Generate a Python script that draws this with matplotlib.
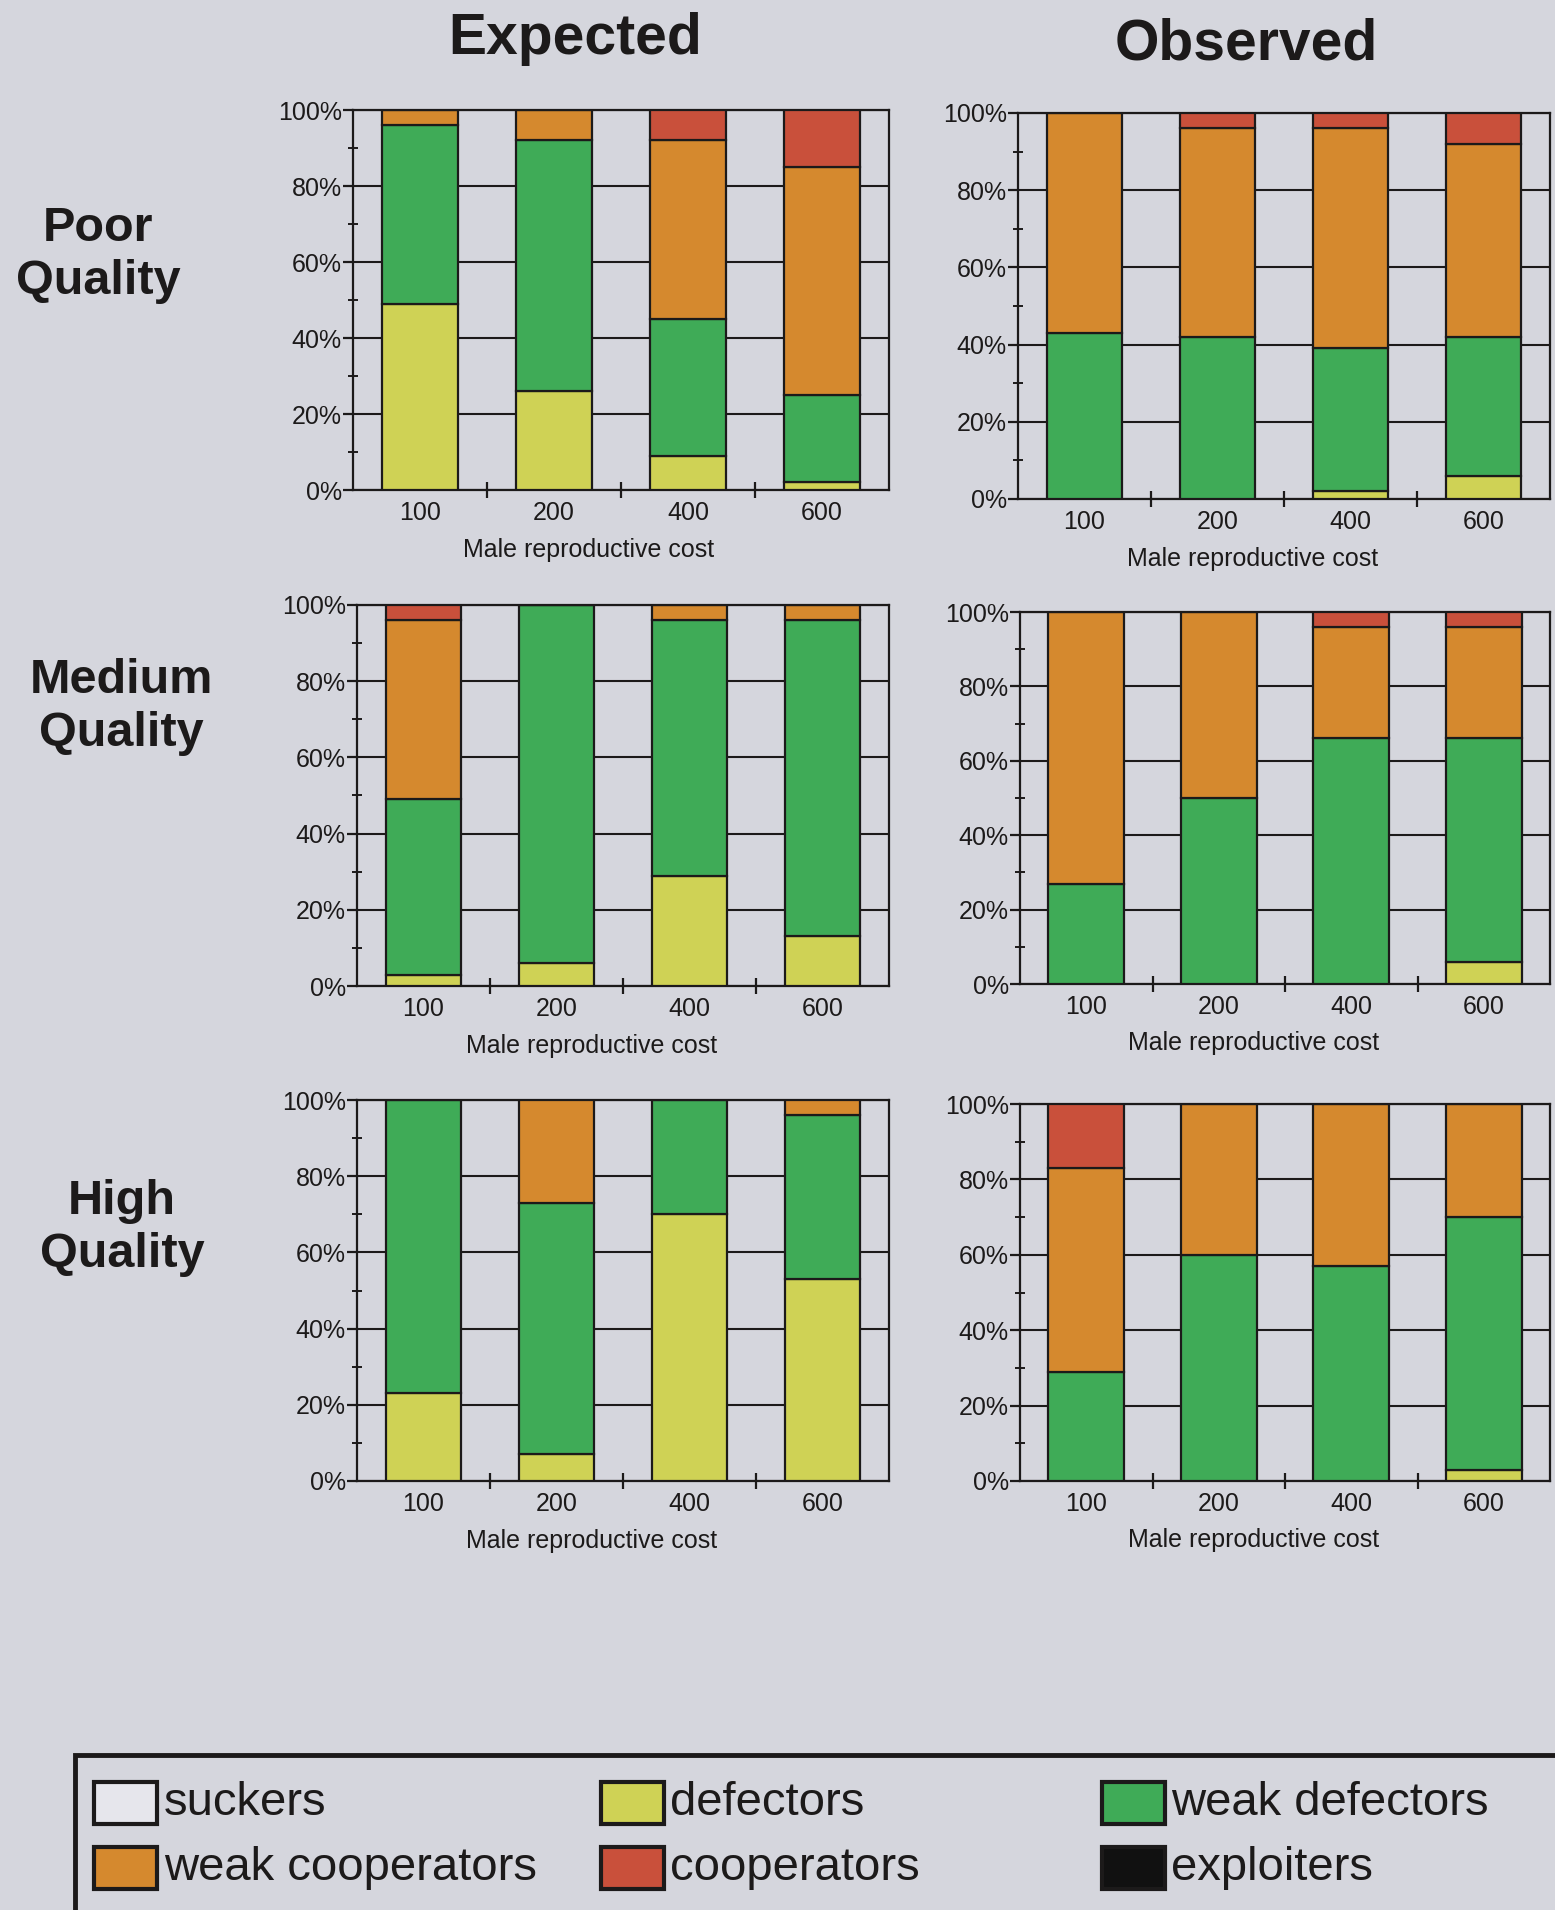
import matplotlib
matplotlib.use("Agg")
import matplotlib.pyplot as plt
from matplotlib.patches import Rectangle
from matplotlib.ticker import FixedLocator, PercentFormatter

plt.rcParams['font.family'] = ['Liberation Sans', 'DejaVu Sans']

W, H = 1555, 1910
BG = '#d5d6dd'
INK = '#1c1a1a'

costs = ["100", "200", "400", "600"]
strategies = ["suckers", "defectors", "weak defectors", "weak cooperators", "cooperators", "exploiters"]
colors = ['#e6e6ec', '#cfd255', '#3fab57', '#d5892e', '#c9503b', '#111111']

# percentages, stacked bottom->top: defectors, weak defectors, weak cooperators, cooperators
poor_exp_def = [49, 26, 9, 2]
poor_exp_wd = [47, 66, 36, 23]
poor_exp_wc = [4, 8, 47, 60]
poor_exp_co = [0, 0, 8, 15]

poor_obs_def = [0, 0, 2, 6]
poor_obs_wd = [43, 42, 37, 36]
poor_obs_wc = [57, 54, 57, 50]
poor_obs_co = [0, 4, 4, 8]

med_exp_def = [3, 6, 29, 13]
med_exp_wd = [46, 94, 67, 83]
med_exp_wc = [47, 0, 4, 4]
med_exp_co = [4, 0, 0, 0]

med_obs_def = [0, 0, 0, 6]
med_obs_wd = [27, 50, 66, 60]
med_obs_wc = [73, 50, 30, 30]
med_obs_co = [0, 0, 4, 4]

high_exp_def = [23, 7, 70, 53]
high_exp_wd = [77, 66, 30, 43]
high_exp_wc = [0, 27, 0, 4]
high_exp_co = [0, 0, 0, 0]

high_obs_def = [0, 0, 0, 3]
high_obs_wd = [29, 60, 57, 67]
high_obs_wc = [54, 40, 43, 30]
high_obs_co = [17, 0, 0, 0]

zeros = [0, 0, 0, 0]

panels = [
    [(zeros, poor_exp_def, poor_exp_wd, poor_exp_wc, poor_exp_co, zeros),
     (zeros, poor_obs_def, poor_obs_wd, poor_obs_wc, poor_obs_co, zeros)],
    [(zeros, med_exp_def, med_exp_wd, med_exp_wc, med_exp_co, zeros),
     (zeros, med_obs_def, med_obs_wd, med_obs_wc, med_obs_co, zeros)],
    [(zeros, high_exp_def, high_exp_wd, high_exp_wc, high_exp_co, zeros),
     (zeros, high_obs_def, high_obs_wd, high_obs_wc, high_obs_co, zeros)],
]

# pixel boxes (left, right, top, bottom) for each panel
boxes = [
    [(353, 889, 110, 490), (1018, 1550, 113, 499)],
    [(357, 889, 605, 986), (1020, 1550, 612, 984)],
    [(357, 889, 1100, 1481), (1020, 1550, 1104, 1481)],
]

row_labels = ["Poor\nQuality", "Medium\nQuality", "High\nQuality"]
row_label_pos = [(98, 255), (121, 707), (122, 1228)]

fig = plt.figure(figsize=(W / 100, H / 100), dpi=100, facecolor=BG)


def px_axes(l, r, t, b):
    return fig.add_axes([l / W, 1 - b / H, (r - l) / W, (b - t) / H])


def draw_panel(ax, series):
    x = list(range(len(costs)))
    bottom = [0] * len(costs)
    for vals, c in zip(series, colors):
        if sum(vals) == 0:
            continue
        ax.bar(x, vals, 0.57, bottom=bottom, color=c, edgecolor=INK, linewidth=1.6, zorder=3)
        bottom = [b + v for b, v in zip(bottom, vals)]
    ax.set_facecolor(BG)
    ax.set_xlim(-0.5, 3.5)
    ax.set_ylim(0, 100)
    ax.yaxis.set_major_locator(FixedLocator([0, 20, 40, 60, 80, 100]))
    ax.yaxis.set_minor_locator(FixedLocator([10, 30, 50, 70, 90]))
    ax.yaxis.set_major_formatter(PercentFormatter(decimals=0))
    ax.grid(axis='y', which='major', color=INK, linewidth=1.5, zorder=1)
    ax.set_axisbelow(True)
    ax.xaxis.set_major_locator(FixedLocator([0.5, 1.5, 2.5]))
    ax.xaxis.set_minor_locator(FixedLocator(x))
    ax.set_xticklabels([], minor=False)
    ax.set_xticklabels(costs, minor=True)
    ax.tick_params(axis='x', which='major', direction='inout', length=11, width=1.6, color=INK)
    ax.tick_params(axis='x', which='minor', length=0, pad=8, labelsize=18, labelcolor=INK)
    ax.tick_params(axis='y', which='major', direction='out', length=7, width=1.6, pad=1,
                   labelsize=18, labelcolor=INK, color=INK)
    ax.tick_params(axis='y', which='minor', direction='inout', length=7, width=1.4, color=INK)
    for s in ax.spines.values():
        s.set_color(INK)
        s.set_linewidth(1.6)
    ax.set_xlabel("Male reproductive cost", fontsize=18, color=INK)
    ax.xaxis.set_label_coords(0.44, -0.125)


for r in range(3):
    for c in range(2):
        ax = px_axes(*boxes[r][c])
        draw_panel(ax, panels[r][c])
    lx, ly = row_label_pos[r]
    fig.text(lx / W, 1 - ly / H, row_labels[r], ha='center', va='center', fontsize=35,
             fontweight='bold', color=INK, linespacing=1.22)

fig.text(575 / W, 1 - 39 / H, "Expected", ha='center', va='center', fontsize=41,
         fontweight='bold', color=INK)
fig.text(1246 / W, 1 - 45 / H, "Observed", ha='center', va='center', fontsize=41,
         fontweight='bold', color=INK)

# legend box, running off the right and bottom edges
fig.patches.append(Rectangle((75 / W, -0.02), 1.0, (H - 1755) / H + 0.02, transform=fig.transFigure,
                             facecolor='none', edgecolor=INK, linewidth=3.5))

leg_order = [[0, 1, 2], [3, 4, 5]]
leg_rows_y = [1803, 1868]
leg_patch_x = [94, 601, 1102]
leg_text_x = [164, 670, 1171]
pw, ph = 63, 42
for ri, row in enumerate(leg_order):
    yc = leg_rows_y[ri]
    for ci, k in enumerate(row):
        fig.patches.append(Rectangle((leg_patch_x[ci] / W, 1 - (yc + ph / 2) / H), pw / W, ph / H,
                                     transform=fig.transFigure, facecolor=colors[k],
                                     edgecolor=INK, linewidth=3))
        fig.text(leg_text_x[ci] / W, 1 - yc / H, strategies[k], ha='left', va='center',
                 fontsize=34, color=INK)

fig.savefig("out.png", dpi=100, facecolor=BG)
